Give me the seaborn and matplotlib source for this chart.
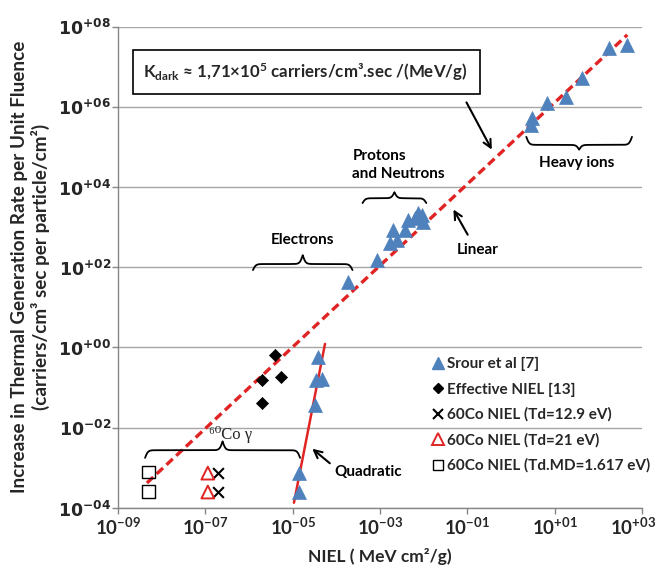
import numpy as np
import pandas as pd
import matplotlib
matplotlib.use("Agg")
import matplotlib.pyplot as plt
import matplotlib.transforms as mtrans
import seaborn as sns
from matplotlib.lines import Line2D
from matplotlib.patches import Rectangle

# data (NIEL in MeV cm2/g, rate in carriers/cm3 sec per particle/cm2)
srour_niel = [1.38e-5, 1.38e-5, 3.8e-5, 3.4e-5, 4.7e-5, 3.2e-5, 1.86e-4,
              8.5e-4, 1.7e-3, 2.0e-3, 2.45e-3, 3.7e-3, 4.4e-3, 6.3e-3, 7.4e-3, 9.1e-3, 9.5e-3,
              3.1, 2.9, 6.6, 18.5, 43.0, 180.0, 460.0]
srour_rate = [2.5e-4, 7.4e-4, 0.58, 0.155, 0.165, 0.037, 43.0,
              151.0, 400.0, 850.0, 480.0, 850.0, 1510.0, 1700.0, 2240.0, 2000.0, 1350.0,
              5.2e5, 3.5e5, 1.23e6, 1.74e6, 5.2e6, 2.9e7, 3.45e7]
eff_niel = [3.9e-6, 2.0e-6, 5.4e-6, 2.0e-6]
eff_rate = [0.65, 0.155, 0.186, 0.042]
co_129_niel = [1.94e-7, 1.94e-7]
co_129_rate = [7.4e-4, 2.5e-4]
co_21_niel = [1.14e-7, 1.14e-7]
co_21_rate = [7.4e-4, 2.5e-4]
co_md_niel = [5.1e-9, 5.1e-9]
co_md_rate = [7.9e-4, 2.6e-4]

# fitted lines as drawn
lin_x = [4.6e-9, 4.6e2]
lin_y = [4.2e-4, 6.2e7]
quad_x = [1.07e-5, 5.5e-5]
quad_y = [1.35e-4, 1.23]

legend_labels = ["Srour et al [7]", "Effective NIEL [13]", "60Co NIEL (Td=12.9 eV)",
                 "60Co NIEL (Td=21 eV)", "60Co NIEL (Td.MD=1.617 eV)"]

sns.set_theme(style="white")
plt.rcParams["font.family"] = ["Lato", "DejaVu Sans"]
plt.rcParams["mathtext.fontset"] = "custom"
plt.rcParams["mathtext.rm"] = "Lato"
plt.rcParams["mathtext.bf"] = "Lato:bold"
plt.rcParams["mathtext.it"] = "Lato:italic"

BLUE = "#4F81BD"
RED = "#E02424"
GRID = "#A6A6A6"

fig = plt.figure(figsize=(6.57, 5.7), dpi=100)
ax = fig.add_axes([0.1796, 0.1088, 0.7976, 0.8447])
ax.set_xscale("log")
ax.set_yscale("log")
ax.set_xlim(1e-9, 1e3)
ax.set_ylim(1e-4, 1e8)

# fit lines
sns.lineplot(x=lin_x, y=lin_y, ax=ax, color=RED, lw=2.4, linestyle=(0, (2.6, 1.4)), zorder=3)
sns.lineplot(x=quad_x, y=quad_y, ax=ax, color=RED, lw=1.8, zorder=3)

# points
sns.scatterplot(x=srour_niel, y=srour_rate, ax=ax, marker="^", s=100, color=BLUE,
                edgecolor=BLUE, linewidth=0.5, zorder=4)
sns.scatterplot(x=eff_niel, y=eff_rate, ax=ax, marker="D", s=38, color="black",
                edgecolor="black", zorder=4)
sns.scatterplot(x=co_129_niel, y=co_129_rate, ax=ax, marker="x", s=60, color="black",
                linewidth=1.5, zorder=4)
sns.scatterplot(x=co_21_niel, y=co_21_rate, ax=ax, marker="^", s=85, facecolor="none",
                edgecolor=RED, linewidth=1.4, zorder=4)
sns.scatterplot(x=co_md_niel, y=co_md_rate, ax=ax, marker="s", s=85, facecolor="none",
                edgecolor="black", linewidth=1.0, zorder=4)

# axes styling
xt = [10.0 ** e for e in range(-9, 4, 2)]
yt = [10.0 ** e for e in range(-4, 9, 2)]
lab = lambda v: r"$\mathbf{10^{%+03d}}$" % int(round(np.log10(v)))
ax.set_xticks(xt)
ax.set_xticklabels([lab(v) for v in xt], fontsize=13.5, math_fontfamily="custom")
ax.set_yticks(yt)
ax.set_yticklabels([lab(v) for v in yt], fontsize=12.5, math_fontfamily="dejavusans")
ax.minorticks_off()
ax.tick_params(axis="both", length=4, width=1, color="#868686", direction="out",
               bottom=True, left=True)
ax.tick_params(axis="x", pad=2.5)
ax.tick_params(axis="y", pad=1)
last = ax.get_xticklabels()[-1]
last.set_transform(last.get_transform() +
                   mtrans.ScaledTranslation(-0.09, 0, fig.dpi_scale_trans))
ax.yaxis.grid(True, color=GRID, lw=1.0)
ax.xaxis.grid(False)
for s in ["top", "right"]:
    ax.spines[s].set_visible(False)
for s in ["left", "bottom"]:
    ax.spines[s].set_color("#868686")
    ax.spines[s].set_linewidth(1.0)

ax.set_xlabel("NIEL ( MeV cm²/g)", fontsize=12.5, fontweight="bold", labelpad=7)
ax.set_ylabel("Increase in Thermal Generation Rate per Unit Fluence\n"
              "(carriers/cm³ sec per particle/cm²)",
              fontsize=13.6, fontweight="bold", labelpad=6, linespacing=1.2)


def brace(lx0, lx1, ly, h_end, h_tip, beta=30):
    mid = (lx0 + lx1) / 2
    half = np.linspace(lx0, mid, 200)
    yh = h_end * 2 * (1 / (1 + np.exp(-beta * (half - lx0))) - 0.5) \
        + h_tip * 2 * (1 / (1 + np.exp(-beta * (half - mid))))
    xs = np.concatenate([half, (lx0 + lx1) - half[::-1]])
    ys = ly + np.concatenate([yh, yh[::-1]])
    ax.plot(10 ** xs, 10 ** ys, color="black", lw=1.3, zorder=3)


tkw = dict(fontsize=11, fontweight="bold", color="black")
brace(-5.91, -3.63, 1.93, 0.15, 0.22)
ax.text(10 ** -4.77, 10 ** 2.68, "Electrons", ha="center", va="center", **tkw)
brace(-3.40, -1.94, 3.60, 0.12, 0.15)
ax.text(10 ** -3.63, 10 ** 4.55, "Protons\nand Neutrons", ha="left", va="center",
        linespacing=1.35, **tkw)
brace(0.35, 2.77, 5.25, -0.20, -0.12)
ax.text(10 ** 1.51, 10 ** 4.60, "Heavy ions", ha="center", va="center", **tkw)
brace(-8.38, -4.83, -2.75, 0.19, 0.22)
ax.text(10 ** -6.42, 10 ** -2.18, "⁶⁰Co γ", ha="center", va="center", fontsize=12,
        family=["Liberation Serif", "DejaVu Serif"])

akw = dict(arrowstyle="->", color="black", lw=1.5, mutation_scale=14)
ax.annotate("", xy=(10 ** -0.41, 10 ** 4.87), xytext=(10 ** -1.05, 10 ** 6.17),
            arrowprops=akw)
ax.annotate("", xy=(10 ** -1.35, 10 ** 3.50), xytext=(10 ** -0.96, 10 ** 2.75),
            arrowprops=akw)
ax.text(10 ** -0.76, 10 ** 2.43, "Linear", ha="center", va="center", **tkw)
ax.annotate("", xy=(10 ** -4.60, 10 ** -2.48), xytext=(10 ** -4.10, 10 ** -2.93),
            arrowprops=akw)
ax.text(10 ** -4.05, 10 ** -3.10, "Quadratic", ha="left", va="center", **tkw)

# K_dark box
ax.add_patch(Rectangle((0.0286, 0.860), 0.662, 0.0914, transform=ax.transAxes,
                       facecolor="white", edgecolor="black", lw=1.2, zorder=5))
ax.text(0.048, 0.9055, r"K$_{\mathbf{dark}}$ ≈ 1,71×10$^{\mathbf{5}}$ carriers/cm³.sec /(MeV/g)",
        transform=ax.transAxes, ha="left", va="center", fontsize=12.2, fontweight="bold",
        zorder=6)

handles = [
    Line2D([], [], ls="none", marker="^", ms=8.5, color=BLUE),
    Line2D([], [], ls="none", marker="D", ms=5.5, color="black"),
    Line2D([], [], ls="none", marker="x", ms=7, mew=1.5, color="black"),
    Line2D([], [], ls="none", marker="^", ms=8, mfc="none", mec=RED, mew=1.4),
    Line2D([], [], ls="none", marker="s", ms=7.5, mfc="none", mec="black", mew=1.0),
]
leg = ax.legend(handles, legend_labels, loc="upper left", bbox_to_anchor=(0.6, 0.313),
                frameon=False, fontsize=11, handlelength=0.7, handletextpad=0.25,
                labelspacing=0.72, borderaxespad=0, borderpad=0)
for t in leg.get_texts():
    t.set_fontweight("bold")

fig.savefig("out.png", dpi=100)
